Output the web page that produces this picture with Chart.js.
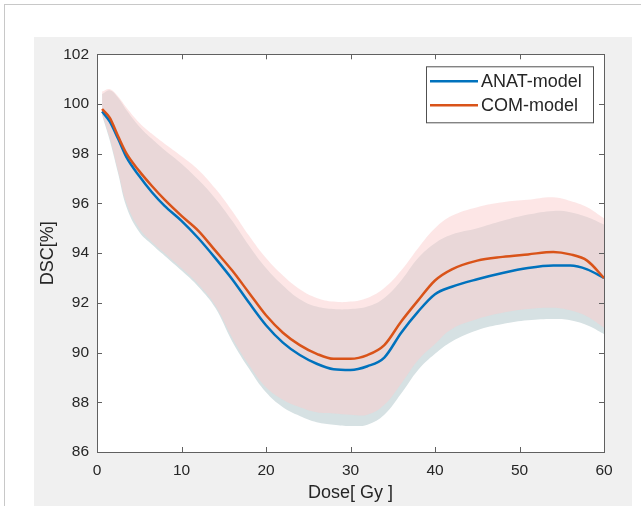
<!DOCTYPE html>
<html>
<head>
<meta charset="utf-8">
<script src="https://cdn.jsdelivr.net/npm/chart.js@4/dist/chart.umd.min.js"></script>
<style>
	body { margin: 0; background: #fff; }
	#frame { position: absolute; left: 4px; top: 4px; width: 700px; height: 600px; border-top: 1px solid #c8c8c8; border-left: 1px solid #c8c8c8; }
	#panel { position: absolute; left: 34px; top: 37px; width: 598px; height: 469px; background: #f0f0f0; }
</style>
</head>
<body>
<div id="frame"></div>
<div id="panel"><canvas id="doseChart"></canvas></div>
<script>

let dose = [0.6, 1.5, 2.5, 3.5, 5, 6.5, 8, 10, 12, 14, 16, 18, 20, 22, 24, 26, 28, 30, 32, 34, 36, 38, 40, 42, 45, 48, 51, 54, 56, 58, 60];

let anatMean = [99.7, 99.3, 98.6, 97.85, 97.1, 96.45, 95.9, 95.3, 94.6, 93.8, 92.95, 92.0, 91.1, 90.4, 89.9, 89.55, 89.33, 89.3, 89.45, 89.8, 90.8, 91.65, 92.35, 92.65, 92.95, 93.2, 93.4, 93.5, 93.5, 93.35, 93.0];
let anatUpper = [100.4, 100.55, 100.25, 99.75, 99.1, 98.6, 98.15, 97.6, 96.95, 96.2, 95.3, 94.3, 93.4, 92.7, 92.15, 91.85, 91.75, 91.75, 91.85, 92.2, 92.9, 93.8, 94.4, 94.75, 95.0, 95.3, 95.55, 95.7, 95.65, 95.45, 95.15];
let anatLower = [99.55, 98.55, 97.2, 95.85, 94.85, 94.35, 93.9, 93.3, 92.65, 91.8, 90.45, 89.35, 88.4, 87.8, 87.45, 87.2, 87.1, 87.05, 87.1, 87.5, 88.35, 89.3, 89.95, 90.45, 90.9, 91.15, 91.3, 91.35, 91.3, 91.1, 90.75];

let comMean = [99.8, 99.45, 98.7, 98.0, 97.3, 96.7, 96.15, 95.5, 94.9, 94.1, 93.3, 92.4, 91.5, 90.8, 90.3, 89.95, 89.75, 89.75, 89.9, 90.3, 91.25, 92.1, 92.9, 93.35, 93.7, 93.85, 93.95, 94.05, 93.95, 93.7, 93.0];
let comUpper = [100.5, 100.6, 100.3, 99.85, 99.25, 98.8, 98.4, 97.9, 97.35, 96.6, 95.7, 94.7, 93.8, 93.1, 92.55, 92.2, 92.05, 92.05, 92.2, 92.6, 93.3, 94.2, 95.0, 95.5, 95.85, 96.05, 96.15, 96.25, 96.1, 95.85, 95.4];
let comLower = [99.6, 98.65, 97.3, 96.0, 95.0, 94.45, 94.0, 93.4, 92.75, 91.9, 90.6, 89.5, 88.6, 88.1, 87.8, 87.6, 87.55, 87.5, 87.5, 87.9, 88.75, 89.7, 90.35, 90.95, 91.35, 91.6, 91.75, 91.8, 91.7, 91.45, 91.0];

let xTicks = [0, 10, 20, 30, 40, 50, 60];
let yTicks = [86, 88, 90, 92, 94, 96, 98, 100, 102];

let seriesNames = ['ANAT-model', 'COM-model'];
let seriesColors = ['#0072bd', '#d95319'];

const FONT = "'Liberation Sans', Arial, Helvetica, sans-serif";

function points(values) {
	return dose.map((d, i) => ({ x: d, y: values[i] }));
}

// white axes area on the grey figure
let axesBackground = {
	id: 'axesBackground',
	beforeDraw(chart) {
		let a = chart.chartArea;
		chart.ctx.save();
		chart.ctx.fillStyle = '#fff';
		chart.ctx.fillRect(a.left, a.top, a.right - a.left, a.bottom - a.top);
		chart.ctx.restore();
	}
};

// box round the axes with inward ticks, like matlab
let axesBox = {
	id: 'axesBox',
	afterDatasetsDraw(chart) {
		let ctx = chart.ctx;
		let a = chart.chartArea;
		let xs = chart.scales.x;
		let ys = chart.scales.y;
		ctx.save();
		ctx.strokeStyle = '#606060';
		ctx.lineWidth = 1;
		ctx.strokeRect(Math.round(a.left) + 0.5, Math.round(a.top) + 0.5, Math.round(a.right - a.left), Math.round(a.bottom - a.top));
		ctx.beginPath();
		xTicks.slice(1, -1).forEach(v => {
			let px = Math.round(xs.getPixelForValue(v)) + 0.5;
			ctx.moveTo(px, a.bottom);
			ctx.lineTo(px, a.bottom - 5);
			ctx.moveTo(px, a.top);
			ctx.lineTo(px, a.top + 5);
		});
		yTicks.slice(1, -1).forEach(v => {
			let py = Math.round(ys.getPixelForValue(v)) + 0.5;
			ctx.moveTo(a.left, py);
			ctx.lineTo(a.left + 5, py);
			ctx.moveTo(a.right, py);
			ctx.lineTo(a.right - 5, py);
		});
		ctx.stroke();
		ctx.restore();
	}
};

let boxLegend = {
	id: 'boxLegend',
	afterDraw(chart) {
		let ctx = chart.ctx;
		let a = chart.chartArea;
		let right = a.right - 11;
		let top = a.top + 12;
		let w = 167;
		let h = 56;
		ctx.save();
		ctx.fillStyle = '#fff';
		ctx.fillRect(right - w, top, w, h);
		ctx.strokeStyle = '#505050';
		ctx.lineWidth = 1;
		ctx.strokeRect(right - w + 0.5, top + 0.5, w, h);
		ctx.font = '18px ' + FONT;
		ctx.textBaseline = 'middle';
		ctx.fillStyle = '#262626';
		seriesNames.forEach((name, i) => {
			let y = top + 15 + i * 24;
			ctx.strokeStyle = seriesColors[i];
			ctx.lineWidth = 2.5;
			ctx.beginPath();
			ctx.moveTo(right - w + 4, y);
			ctx.lineTo(right - w + 52, y);
			ctx.stroke();
			ctx.fillText(name, right - w + 55, y + 1);
		});
		ctx.restore();
	}
};

function addDoseChart() {

	let ctx = document.getElementById('doseChart').getContext('2d');
	let band = { borderWidth: 0, pointRadius: 0, tension: 0.4 };
	let myLineChart = new Chart(ctx, {
		type: 'line',
		data: {
			datasets: [
				Object.assign({ label: 'ANAT lower', data: points(anatLower), fill: false, order: 4 }, band),
				Object.assign({ label: 'ANAT upper', data: points(anatUpper), fill: '-1', backgroundColor: 'rgb(214, 225, 227)', order: 3 }, band),
				Object.assign({ label: 'COM lower', data: points(comLower), fill: false, order: 2 }, band),
				Object.assign({ label: 'COM upper', data: points(comUpper), fill: '-1', backgroundColor: 'rgba(251, 205, 205, 0.5)', order: 1 }, band),
				{
					label: seriesNames[1],
					data: points(comMean),
					borderColor: seriesColors[1],
					borderWidth: 2.5,
					pointRadius: 0,
					fill: false,
					cubicInterpolationMode: 'monotone',
					order: 0
				},
				{
					label: seriesNames[0],
					data: points(anatMean),
					borderColor: seriesColors[0],
					borderWidth: 2.5,
					pointRadius: 0,
					fill: false,
					cubicInterpolationMode: 'monotone',
					order: 0.5
				}
			]
		},
		options: {
			responsive: true,
			maintainAspectRatio: false,
			animation: false,
			layout: {
				padding: { left: 0, top: 15, right: 28, bottom: 0 }
			},
			plugins: {
				legend: { display: false },
				tooltip: { enabled: false }
			},
			scales: {
				x: {
					type: 'linear',
					min: 0,
					max: 60,
					afterBuildTicks: s => { s.ticks = xTicks.map(v => ({ value: v })); },
					afterFit: s => { s.height = 54; },
					grid: { display: false, drawTicks: false },
					border: { display: false },
					ticks: { color: '#262626', font: { family: FONT, size: 15.5 }, padding: 9, maxRotation: 0 },
					title: { display: true, text: 'Dose[ Gy ]', color: '#262626', font: { family: FONT, size: 18 }, padding: { top: 0, bottom: 2 } }
				},
				y: {
					min: 86,
					max: 102,
					afterBuildTicks: s => { s.ticks = yTicks.map(v => ({ value: v })); },
					afterFit: s => { s.width = 63; },
					grid: { display: false, drawTicks: false },
					border: { display: false },
					ticks: { color: '#262626', font: { family: FONT, size: 15.5 }, padding: 8 },
					title: { display: true, text: 'DSC[%]', color: '#262626', font: { family: FONT, size: 18 }, padding: { top: 3, bottom: 0 } }
				}
			}
		},
		plugins: [axesBackground, axesBox, boxLegend]
	});

}

addDoseChart();

</script>
</body>
</html>
